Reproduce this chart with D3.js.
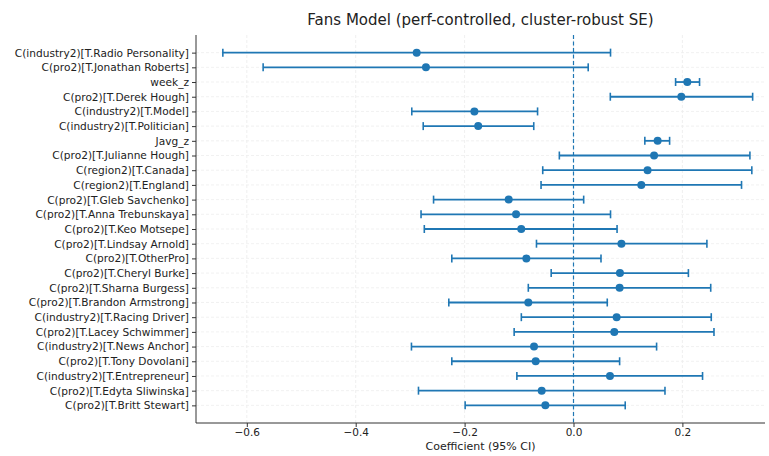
<!DOCTYPE html>
<html><head><meta charset="utf-8">
<script src="https://cdn.jsdelivr.net/npm/d3@7"></script>
<style>body{margin:0;background:#fff}svg{display:block}text{font-family:"DejaVu Sans",sans-serif;fill:#222}</style>
</head><body><svg id="c" width="769" height="456"></svg>
<script>
const terms = ["C(industry2)[T.Radio Personality]","C(pro2)[T.Jonathan Roberts]","week_z","C(pro2)[T.Derek Hough]","C(industry2)[T.Model]","C(industry2)[T.Politician]","Javg_z","C(pro2)[T.Julianne Hough]","C(region2)[T.Canada]","C(region2)[T.England]","C(pro2)[T.Gleb Savchenko]","C(pro2)[T.Anna Trebunskaya]","C(pro2)[T.Keo Motsepe]","C(pro2)[T.Lindsay Arnold]","C(pro2)[T.OtherPro]","C(pro2)[T.Cheryl Burke]","C(pro2)[T.Sharna Burgess]","C(pro2)[T.Brandon Armstrong]","C(industry2)[T.Racing Driver]","C(pro2)[T.Lacey Schwimmer]","C(industry2)[T.News Anchor]","C(pro2)[T.Tony Dovolani]","C(industry2)[T.Entrepreneur]","C(pro2)[T.Edyta Sliwinska]","C(pro2)[T.Britt Stewart]"];
const coef  = [-0.288,-0.271,0.209,0.198,-0.182,-0.175,0.1545,0.148,0.136,0.1245,-0.119,-0.1055,-0.096,0.088,-0.0866,0.0853,0.0847,-0.083,0.0792,0.0749,-0.0725,-0.0694,0.067,-0.0584,-0.0517];
const lower = [-0.644,-0.570,0.1875,0.0676,-0.297,-0.276,0.131,-0.026,-0.0565,-0.0596,-0.257,-0.280,-0.274,-0.068,-0.2235,-0.041,-0.083,-0.229,-0.0958,-0.109,-0.2976,-0.2235,-0.104,-0.2847,-0.199];
const upper = [0.068,0.027,0.2315,0.329,-0.066,-0.073,0.1765,0.324,0.3275,0.3086,0.0187,0.068,0.080,0.245,0.0505,0.211,0.252,0.062,0.253,0.258,0.1526,0.0847,0.237,0.168,0.095];
const xTicks = [-0.6,-0.4,-0.2,0.0,0.2];
const title = "Fans Model (perf-controlled, cluster-robust SE)";
const xLabel = "Coefficient (95% CI)";

const L = 196, R = 765, T = 35, B = 423;
const blue = "#1f77b4";
const svg = d3.select("#c");
const x = d3.scaleLinear().domain([-0.6, 0.2]).range([246.8, 682.4]);
const n = terms.length;
const y = d3.scaleLinear().domain([-1.2, n - 1 + 1.2]).range([T, B]);

// grid
const g = svg.append("g");
g.selectAll(".vg").data(xTicks).join("line")
  .attr("x1", d => x(d)).attr("x2", d => x(d)).attr("y1", T).attr("y2", B)
  .attr("stroke", "#ebebeb").attr("stroke-width", 0.8).attr("stroke-dasharray", "3,2");
g.selectAll(".hg").data(terms).join("line")
  .attr("x1", L).attr("x2", R).attr("y1", (d, i) => y(i)).attr("y2", (d, i) => y(i))
  .attr("stroke", "#ededed").attr("stroke-width", 0.8).attr("stroke-dasharray", "3,2");

// zero line
svg.append("line").attr("x1", x(0)).attr("x2", x(0)).attr("y1", T).attr("y2", B)
  .attr("stroke", blue).attr("stroke-width", 1.2).attr("stroke-dasharray", "4,2.5");

// error bars
const eb = svg.append("g").selectAll("g").data(terms).join("g");
eb.append("line").attr("x1", (d, i) => x(lower[i])).attr("x2", (d, i) => x(upper[i]))
  .attr("y1", (d, i) => y(i)).attr("y2", (d, i) => y(i)).attr("stroke", blue).attr("stroke-width", 1.8);
eb.append("line").attr("x1", (d, i) => x(lower[i])).attr("x2", (d, i) => x(lower[i]))
  .attr("y1", (d, i) => y(i) - 4).attr("y2", (d, i) => y(i) + 4).attr("stroke", blue).attr("stroke-width", 1.6);
eb.append("line").attr("x1", (d, i) => x(upper[i])).attr("x2", (d, i) => x(upper[i]))
  .attr("y1", (d, i) => y(i) - 4).attr("y2", (d, i) => y(i) + 4).attr("stroke", blue).attr("stroke-width", 1.6);
eb.append("circle").attr("cx", (d, i) => x(coef[i])).attr("cy", (d, i) => y(i)).attr("r", 4).attr("fill", blue);

// axes
const xAxis = svg.append("g").attr("transform", `translate(0,${B})`)
  .call(d3.axisBottom(x).tickValues(xTicks).tickSize(4).tickPadding(2).tickFormat(d => d3.format(".1f")(d).replace("-", "−")));
xAxis.select(".domain").remove();
xAxis.selectAll("text").attr("font-size", 10.5).style("fill", "#222");
xAxis.selectAll("line").attr("stroke", "#333");
svg.append("line").attr("x1", L).attr("x2", R).attr("y1", B).attr("y2", B).attr("stroke", "#333").attr("stroke-width", 1);

const yAxis = svg.append("g").attr("transform", `translate(${L},0)`)
  .call(d3.axisLeft(y).tickValues(d3.range(n)).tickSize(4).tickPadding(3).tickFormat(i => terms[i]));
yAxis.select(".domain").remove();
yAxis.selectAll("text").attr("font-size", 10.6).style("fill", "#222");
yAxis.selectAll("line").attr("stroke", "#333");
svg.append("line").attr("x1", L).attr("x2", L).attr("y1", T).attr("y2", B).attr("stroke", "#333").attr("stroke-width", 1);

svg.append("text").attr("x", (L + R) / 2).attr("y", 25).attr("text-anchor", "middle").attr("font-size", 15).text(title);
svg.append("text").attr("x", (L + R) / 2).attr("y", 450).attr("text-anchor", "middle").attr("font-size", 11).text(xLabel);
</script></body></html>
